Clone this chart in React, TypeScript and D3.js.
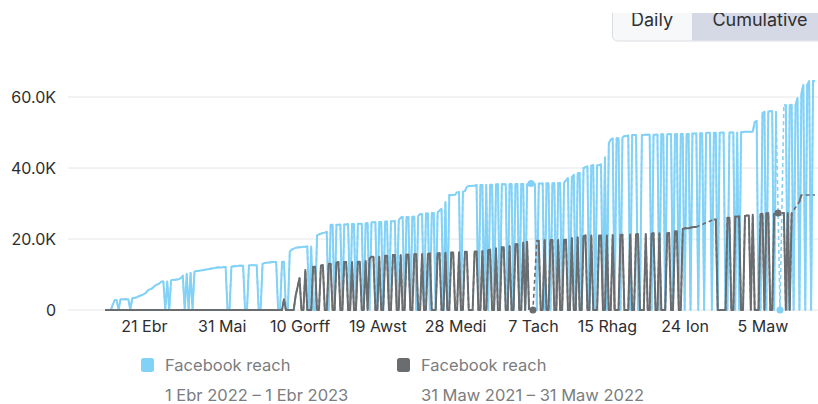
import { useEffect, useRef } from "react";
import * as d3 from "d3";

// period shown: 1 Ebr 2022 – 1 Ebr 2023, one value per day (reach in thousands, cumulative)
const startDate = new Date(2022, 3, 1);
const endDate = new Date(2023, 3, 1);

const tickDates = ["2022-04-21", "2022-05-31", "2022-07-10", "2022-08-19", "2022-09-28", "2022-11-07", "2022-12-15", "2023-01-24", "2023-03-05"];
const tickLabels = ["21 Ebr", "31 Mai", "10 Gorff", "19 Awst", "28 Medi", "7 Tach", "15 Rhag", "24 Ion", "5 Maw"];

const yTicks = [0, 20000, 40000, 60000];
const yTickLabels = ["0", "20.0K", "40.0K", "60.0K"];

const seriesNames = ["Facebook reach", "Facebook reach"];
const seriesRanges = ["1 Ebr 2022 – 1 Ebr 2023", "31 Maw 2021 – 31 Maw 2022"];
const seriesColors = ["#82d1f7", "#6a6d70"];

// null = no data for that day (drawn dashed across the gap)
const currentReach = [
  0, 0, 0, 0, 1.5, 2.8, 2.8, 0, 3.0, 3.0,
  3.0, 3.0, 3.0, 0, 3.3, 3.4, 3.5, 3.8, 4.0, 4.2,
  4.5, 4.8, 5.5, 5.8, 6.0, 6.5, 7.0, 7.2, 7.5, 8.0,
  8.0, 0, 8.0, 0, 8.4, 8.5, 8.5, 8.6, 8.7, 9.0,
  9.6, 0, 10.2, 0, 10.5, 0, 10.8, 11.0, 11.0, 11.1,
  11.2, 11.3, 11.4, 11.5, 11.6, 11.7, 11.8, 11.9, 12.0, 12.0,
  12.0, 12.1, 12.1, 0, 0, 12.2, 12.3, 12.3, 12.4, 12.5,
  12.5, 12.5, 0, 0, 12.6, 12.6, 12.6, 12.6, 12.6, 0,
  0, 13.0, 13.2, 13.3, 13.4, 13.4, 13.5, 13.5, 13.5, 0,
  0, 13.5, 13.6, 0, 0, 16.5, 17.0, 17.3, 17.5, 17.6,
  17.7, 17.7, 17.8, 17.8, 17.9, 0, 17.9, 0, 0, 21.0,
  21.3, 21.5, 21.7, 21.8, 22.0, 0, 24.0, 24.0, 0, 24.0,
  24.0, 24.1, 0, 24.1, 24.1, 24.2, 0, 24.2, 24.2, 0,
  24.3, 24.3, 24.3, 0, 24.4, 24.5, 0, 24.7, 24.7, 24.7,
  0, 24.8, 24.8, 0, 24.9, 24.9, 0, 25.0, 25.0, 25.1,
  0, 25.3, 26.0, 26.2, 0, 26.2, 26.2, 0, 26.3, 26.3,
  0, 26.5, 27.0, 27.0, 0, 27.2, 27.2, 0, 27.3, 27.3,
  0, 27.5, 28.0, 28.5, 0, 30.4, 0, 32.4, 32.4, 32.4,
  32.5, 33.2, 33.2, 0, 33.3, 33.5, 34.7, 34.9, 34.9, 35.0,
  35.0, 35.2, 0, 35.2, 35.2, 0, 35.3, 0, 35.3, 35.3,
  0, 35.4, 35.4, 0, 35.4, 35.4, 35.4, 0, 35.5, 35.5,
  0, 35.5, 35.5, 0, 35.5, 35.5, 0, 35.5, null, 35.6,
  null, 35.6, 0, 35.6, 35.6, 35.6, 0, 35.7, 35.7, 0,
  35.7, 35.7, 0, 35.8, 35.8, 0, 35.8, 36.5, 37.2, 0,
  37.5, 38.0, 0, 38.5, 38.6, 0, 40.0, 40.2, 40.5, 0,
  40.7, 40.8, 0, 40.8, 40.8, 41.0, 0, 43.0, 0, 47.0,
  48.0, 48.3, 0, 48.4, 48.4, 0, 48.5, 49.0, 49.0, 49.2,
  0, 49.3, 49.3, 49.3, 0, 0, 49.3, 49.3, 49.4, 49.4,
  49.4, 0, 49.4, 49.4, 49.4, 0, 49.5, 49.5, 0, 49.5,
  49.5, 49.5, 0, 49.5, 49.6, 0, 49.6, 49.6, 0, 49.6,
  49.6, 0, 49.7, 49.7, 49.7, 0, 49.8, 49.8, 0, 49.8,
  49.9, 49.9, 0, 49.9, 49.9, 0, 49.9, 50.0, 50.0, 0,
  0, 50.0, 50.0, 50.0, 0, 50.0, 0, 50.1, 50.1, 50.2,
  50.2, 50.2, 50.2, 50.2, 53.0, 53.2, 0, 0, 55.5, 55.8,
  0, 55.9, 56.0, 56.0, 0, 56.0, null, 0, null, 57.7,
  57.7, 0, 57.7, 57.8, 0, 57.8, 59.7, 0, 61.0, 63.4,
  0, 63.4, 64.5, 0, 64.5, 64.5,
];

const previousReach = [
  0, 0, 0, 0, 0, 0, 0, 0, 0, 0,
  0, 0, 0, 0, 0, 0, 0, 0, 0, 0,
  0, 0, 0, 0, 0, 0, 0, 0, 0, 0,
  0, 0, 0, 0, 0, 0, 0, 0, 0, 0,
  0, 0, 0, 0, 0, 0, 0, 0, 0, 0,
  0, 0, 0, 0, 0, 0, 0, 0, 0, 0,
  0, 0, 0, 0, 0, 0, 0, 0, 0, 0,
  0, 0, 0, 0, 0, 0, 0, 0, 0, 0,
  0, 0, 0, 0, 0, 0, 0, 0, 0, 0,
  0, 0, 3.0, 0, 0, 0, 0, 0, 4.0, 6.5,
  9.0, 0, 0, 11.3, 0, 0, 0, 12.2, 12.2, 0,
  0, 12.5, 12.7, 0, 0, 13.0, 13.0, 0, 0, 13.4,
  13.5, 0, 0, 13.5, 13.5, 0, 0, 13.5, 0, 0,
  13.6, 13.6, 0, 0, 13.8, 0, 14.5, 15.0, 15.0, 0,
  0, 15.0, 0, 0, 15.3, 15.3, 0, 0, 15.5, 15.5,
  0, 0, 15.5, 0, 0, 15.6, 15.6, 0, 0, 15.7,
  15.7, 0, 0, 15.8, 0, 0, 15.8, 15.9, 0, 0,
  0, 15.9, 16.0, 0, 0, 16.1, 0, 0, 16.2, 16.2,
  0, 0, 16.3, 0, 0, 16.4, 16.4, 0, 0, 0,
  16.5, 16.5, 0, 0, 16.6, 0, 0, 16.8, 17.0, 0,
  0, 17.4, 0, 0, 17.7, 17.7, 0, 0, 18.0, 0,
  0, 18.5, 18.5, 0, 0, 19.0, 0, 19.2, 0, null,
  0, null, 19.5, 19.5, 0, 0, 19.7, 0, 0, 19.7,
  19.7, 0, 0, 19.7, 0, 0, 19.8, 19.8, 0, 0,
  20.3, 0, 0, 20.5, 0, 0, 20.8, 21.0, 0, 0,
  21.0, 0, 0, 0, 21.0, 21.0, 0, 0, 21.0, 0,
  0, 21.1, 0, 0, 0, 21.1, 21.2, 0, 0, 0,
  21.3, 0, 0, 21.3, 21.4, 0, 0, 0, 21.4, 0,
  0, 21.5, 21.6, 0, 0, 21.6, 0, 0, 0, 21.6,
  21.7, 0, 0, 22.2, 22.2, 0, 0, 22.8, 23.0, 23.0,
  23.0, 23.2, 23.3, 23.4, 23.4, null, null, null, null, null,
  null, null, null, 25.5, 25.5, 0, 0, 0, 0, 0,
  26.0, 26.0, 0, 0, 26.3, 26.3, 26.4, 0, 0, 26.5,
  26.6, 26.6, 0, 26.8, 0, 0, 0, 27.0, 27.1, 0,
  27.2, 27.3, 0, 0, 27.3, null, 27.3, null, 27.3, 27.3,
  0, 27.3, 0, 27.3, null, null, null, 30.5, 32.4, null,
  null, null, null, null, null, 32.4,
];

const FONT = "Inter, 'Noto Sans', sans-serif";

export default function App() {
  const svgRef = useRef<SVGSVGElement>(null);

  useEffect(() => {
    const width = 818, height = 404;
    const svg = d3.select(svgRef.current).attr("width", width).attr("height", height);
    svg.selectAll("*").remove();

    const x = d3.scaleTime().domain([startDate, endDate]).range([105, 815]);
    const y = d3.scaleLinear().domain([0, 60000]).range([310, 97]);

    // grid + y labels
    svg.append("g")
      .selectAll("line")
      .data(yTicks)
      .join("line")
      .attr("x1", 68).attr("x2", width)
      .attr("y1", (d) => y(d)).attr("y2", (d) => y(d))
      .attr("stroke", "#e5e6e8").attr("stroke-width", 1);

    svg.append("g")
      .selectAll("text")
      .data(yTicks)
      .join("text")
      .attr("x", 56).attr("y", (d) => y(d) + 5.5)
      .attr("text-anchor", "end")
      .attr("font-family", FONT).attr("font-size", 16).attr("fill", "#2e2e30")
      .text((d, i) => yTickLabels[i]);

    // x axis labels
    const parse = d3.timeParse("%Y-%m-%d");
    const xAxis = d3.axisBottom(x)
      .tickValues(tickDates.map((d) => parse(d) as Date))
      .tickFormat((d, i) => tickLabels[i])
      .tickSize(0).tickPadding(0);
    const gx = svg.append("g").attr("transform", "translate(0, 321)").call(xAxis);
    gx.select(".domain").remove();
    gx.selectAll("text")
      .attr("font-family", FONT).attr("font-size", 16).attr("fill", "#2e2e30");

    const drawSeries = (values: (number | null)[], color: string) => {
      const pts = values.map((v, i) => ({ date: d3.timeDay.offset(startDate, i), value: v == null ? null : v * 1000 }));
      const g = svg.append("g");
      const line = d3.line<any>().x((d) => x(d.date)).y((d) => y(d.value));

      // dashed bridge over missing days
      g.append("path")
        .attr("d", line(pts.filter((d) => d.value != null)))
        .attr("fill", "none").attr("stroke", color).attr("stroke-width", 1.6)
        .attr("stroke-dasharray", "4,3");

      g.append("path")
        .attr("d", line.defined((d) => d.value != null)(pts))
        .attr("fill", "none").attr("stroke", color).attr("stroke-width", 2)
        .attr("stroke-linejoin", "round");

      // single days between gaps get a dot
      const lone = pts.filter((d, i) =>
        d.value != null && i > 0 && i < pts.length - 1 && pts[i - 1].value == null && pts[i + 1].value == null);
      g.selectAll("circle")
        .data(lone)
        .join("circle")
        .attr("cx", (d) => x(d.date)).attr("cy", (d) => y(d.value as number))
        .attr("r", 3.5).attr("fill", color);
    };

    drawSeries(currentReach, seriesColors[0]);
    drawSeries(previousReach, seriesColors[1]);

    // legend
    const legendX = [141, 397];
    const legend = svg.append("g");
    seriesNames.forEach((name, i) => {
      legend.append("rect")
        .attr("x", legendX[i]).attr("y", 358).attr("width", 13).attr("height", 14).attr("rx", 2.5)
        .attr("fill", seriesColors[i]);
      legend.append("text")
        .attr("x", legendX[i] + 24).attr("y", 371)
        .attr("font-family", FONT).attr("font-size", 16.5).attr("fill", "#7b7d80")
        .text(name);
      legend.append("text")
        .attr("x", legendX[i] + 24).attr("y", 401)
        .attr("font-family", FONT).attr("font-size", 16.5).attr("fill", "#7b7d80")
        .text(seriesRanges[i]);
    });

    // Daily / Cumulative toggle (cut off by the top edge)
    const toggle = svg.append("g");
    toggle.append("rect")
      .attr("x", 612.5).attr("y", -20).attr("width", 230).attr("height", 61).attr("rx", 5)
      .attr("fill", "#f7f8f9").attr("stroke", "#dcdee2");
    toggle.append("rect")
      .attr("x", 692).attr("y", -19.5).attr("width", 150).attr("height", 60)
      .attr("fill", "#d5d9e5");
    toggle.append("text")
      .attr("x", 652).attr("y", 26).attr("text-anchor", "middle")
      .attr("font-family", FONT).attr("font-size", 18).attr("fill", "#2f3033")
      .text("Daily");
    toggle.append("text")
      .attr("x", 760).attr("y", 26).attr("text-anchor", "middle")
      .attr("font-family", FONT).attr("font-size", 18).attr("fill", "#2f3033")
      .text("Cumulative");
    // page header overlapping the top of the toggle
    svg.append("rect").attr("x", 0).attr("y", 0).attr("width", width).attr("height", 13).attr("fill", "#fff");
  }, []);

  return <svg ref={svgRef} style={{ position: "absolute", left: 0, top: 0, background: "#fff" }}></svg>;
}
